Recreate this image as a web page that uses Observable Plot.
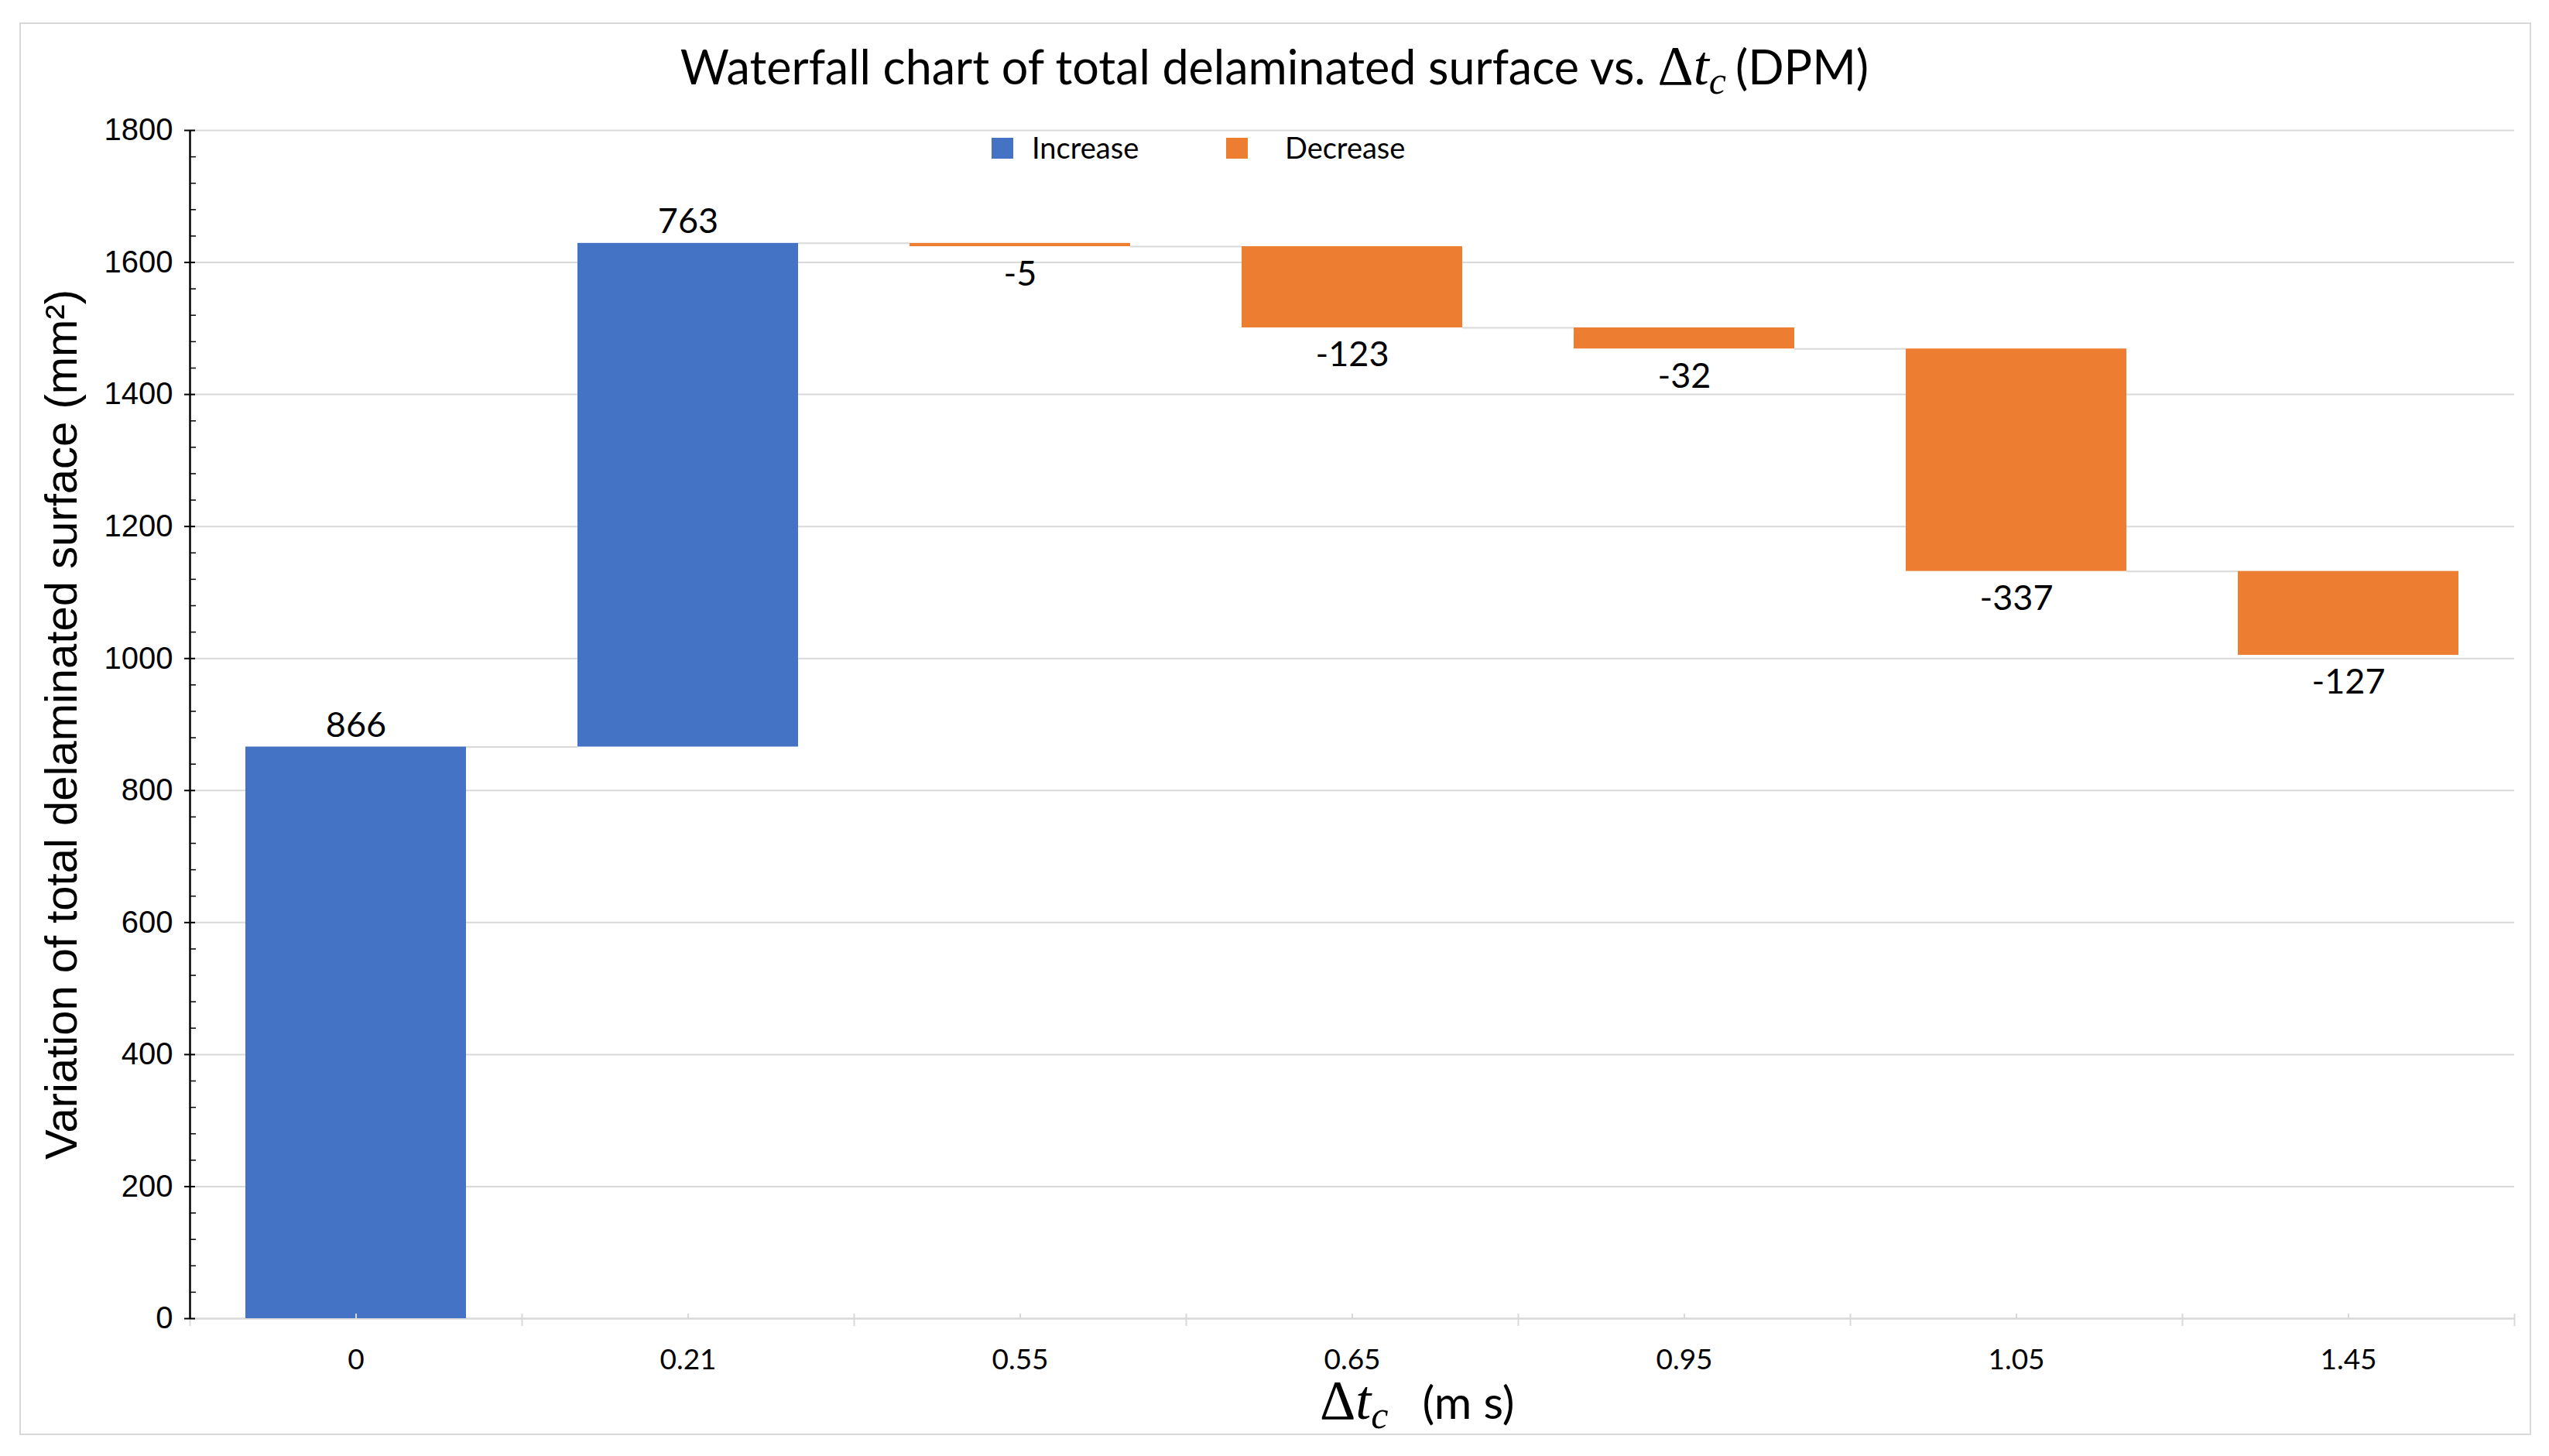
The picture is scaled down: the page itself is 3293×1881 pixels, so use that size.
<!DOCTYPE html>
<html>
<head>
<meta charset="utf-8">
<script src="https://cdn.jsdelivr.net/npm/d3@7"></script>
<script src="https://cdn.jsdelivr.net/npm/@observablehq/plot@0.6"></script>
<style>
  html, body { margin: 0; padding: 0; background: #fff; color: #000; }
  #wrap { position: relative; width: 3293px; height: 1881px; overflow: hidden; font-family: Lato, "Open Sans", sans-serif; color: #000; background: #fff; }
  #frame { position: absolute; left: 25px; top: 29px; width: 3245px; height: 1825px; border: 2px solid #d9d9d9; box-sizing: border-box; z-index: 3; pointer-events: none; }
  #title { position: absolute; left: 0; top: 45px; width: 3293px; text-align: center; white-space: nowrap; font-size: 61px; line-height: 80px; z-index: 2; }
  .m { font-family: "Liberation Serif", "DejaVu Serif", serif; font-size: 72px; }
  .mi { font-family: "Liberation Serif", "DejaVu Serif", serif; font-style: italic; font-size: 72px; }
  .sub { font-family: "Liberation Serif", "DejaVu Serif", serif; font-style: italic; font-size: 50px; position: relative; top: 12px; margin-right: 6px; }
  #title .sub { margin-right: 12px; }
  #legend { position: absolute; left: 0; top: 0; width: 3293px; height: 0; z-index: 2; }
  .sw { position: absolute; width: 28px; height: 27px; }
  .lt { position: absolute; font-size: 38px; line-height: 38px; white-space: nowrap; }
  #chart { position: absolute; left: 0; top: 130px; width: 3293px; height: 1650px; z-index: 1; }
  #xlabel { position: absolute; left: 1705px; top: 1769px; white-space: nowrap; line-height: 80px; z-index: 2; }
  #xlabel .u { font-family: Lato, sans-serif; font-size: 59px; margin-left: 38px; }
</style>
</head>
<body>
<div id="wrap">
  <div id="frame"></div>
  <div id="chart"></div>
  <div id="title">Waterfall chart of total delaminated surface vs. <span class="m">Δ</span><span class="mi">t</span><span class="sub">c</span><span>(DPM)</span></div>
  <div id="legend"></div>
  <div id="xlabel"><span class="m">Δ</span><span class="mi">t</span><span class="sub">c</span><span class="u">(m s)</span></div>
</div>
<script>
// ---- data ----
const categories = ["0", "0.21", "0.55", "0.65", "0.95", "1.05", "1.45"];
const changes = [866, 763, -5, -123, -32, -337, -127];
const yTickValues = [0, 200, 400, 600, 800, 1000, 1200, 1400, 1600, 1800];
const seriesNames = ["Increase", "Decrease"];
const seriesColors = ["#4472C4", "#ED7D31"];
const yTitle = "Variation of total delaminated surface (mm²)";

// running totals
let acc = 0;
const rows = categories.map((cat, i) => {
  const start = acc;
  acc += changes[i];
  return {cat, change: changes[i], start, end: acc, next: categories[i + 1], kind: changes[i] >= 0 ? seriesNames[0] : seriesNames[1]};
});

const minorTicks = d3.range(0, 1801, 40).filter(v => v % 200 !== 0);

const W = 3293, H = 1650;
const mL = 245, mR = 45, mT = 38, mB = 77;
const pad = 0.336;
const xOpts = {domain: categories, paddingInner: pad, paddingOuter: pad / 2};
const yOpts = {domain: [0, 1800]};
const base = {width: W, height: H, marginLeft: mL, marginRight: mR, marginTop: mT, marginBottom: mB};

const probe = Plot.plot({...base, x: xOpts, y: yOpts, marks: [Plot.barY(rows, {x: "cat", y: "end"})]});
const xs = probe.scale("x");
const innerW = W - mL - mR;
const step = xs.step ?? innerW / categories.length;
const bw = xs.bandwidth ?? step * (1 - pad);

const grid = "#d9d9d9";
const plot = Plot.plot({
  ...base,
  x: xOpts,
  y: yOpts,
  color: {domain: seriesNames, range: seriesColors},
  style: {fontFamily: "Lato, sans-serif", color: "black", background: "transparent", overflow: "visible", maxWidth: "none"},
  marks: [
    Plot.ruleY(yTickValues.filter(v => v > 0), {y: d => d, stroke: grid, strokeWidth: 2}),
    Plot.ruleY([0], {y: d => d, stroke: grid, strokeWidth: 2.5}),
    Plot.ruleY(rows.slice(0, -1), {y: "end", x1: "cat", x2: "next", insetLeft: bw, insetRight: bw, stroke: grid, strokeWidth: 2}),
    Plot.barY(rows, {x: "cat", y1: "start", y2: "end", fill: "kind"}),
    // x-axis ticks: at band centres (short, above) and band boundaries (cross the axis)
    Plot.ruleX(categories, {x: d => d, y1: 0, y2: 0, insetTop: -6, insetBottom: 0, stroke: grid, strokeWidth: 2}),
    Plot.ruleX(categories, {x: d => d, dx: -step / 2, y1: 0, y2: 0, insetTop: -6, insetBottom: -10, stroke: grid, strokeWidth: 2}),
    Plot.ruleX(categories.slice(-1), {x: d => d, dx: step / 2, y1: 0, y2: 0, insetTop: -6, insetBottom: -10, stroke: grid, strokeWidth: 2}),
    // y axis line and ticks
    Plot.ruleX(categories.slice(0, 1), {x: d => d, dx: -step / 2, y1: 0, y2: 1800, stroke: "black", strokeWidth: 2.5}),
    Plot.ruleY(yTickValues, {y: d => d, insetLeft: -7, insetRight: innerW - 7, stroke: "black", strokeWidth: 2}),
    Plot.ruleY(minorTicks, {y: d => d, insetLeft: 0, insetRight: innerW - 8, stroke: "black", strokeWidth: 1.5}),
    Plot.axisY(yTickValues, {tickSize: 0, tickPadding: 22, fontSize: 40, fontFamily: "Liberation Sans, Arial, sans-serif", label: null, tickFormat: d => String(d)}),
    Plot.axisY([], {tickSize: 0, label: yTitle, labelAnchor: "center", labelArrow: "none", labelOffset: 188, fontSize: 58, fontFamily: "Liberation Sans, Arial, sans-serif"}),
    Plot.axisX({tickSize: 0, tickPadding: 39, fontSize: 37, fontFamily: "Lato, sans-serif", label: null}),
    Plot.text(rows.filter(d => d.change > 0), {x: "cat", y: "end", text: d => String(d.change), lineAnchor: "bottom", dy: -13, fontSize: 45, fill: "black"}),
    Plot.text(rows.filter(d => d.change < 0), {x: "cat", y: "end", text: d => String(d.change), lineAnchor: "top", dy: 18, fontSize: 45, fill: "black"})
  ]
});
plot.style.position = "absolute";
plot.style.left = "0px";
plot.style.top = "0px";
plot.style.maxWidth = "none";
document.getElementById("chart").appendChild(plot);

// legend (HTML, overlaid near top of plot area)
const legend = document.getElementById("legend");
const legendPos = [[1281, 1333], [1584, 1660]];
seriesNames.forEach((name, i) => {
  const sw = document.createElement("div");
  sw.className = "sw";
  sw.style.left = legendPos[i][0] + "px";
  sw.style.top = "178px";
  sw.style.background = seriesColors[i];
  legend.appendChild(sw);
  const t = document.createElement("div");
  t.className = "lt";
  t.style.left = legendPos[i][1] + "px";
  t.style.top = "171px";
  t.textContent = name;
  legend.appendChild(t);
});
</script>
</body>
</html>
